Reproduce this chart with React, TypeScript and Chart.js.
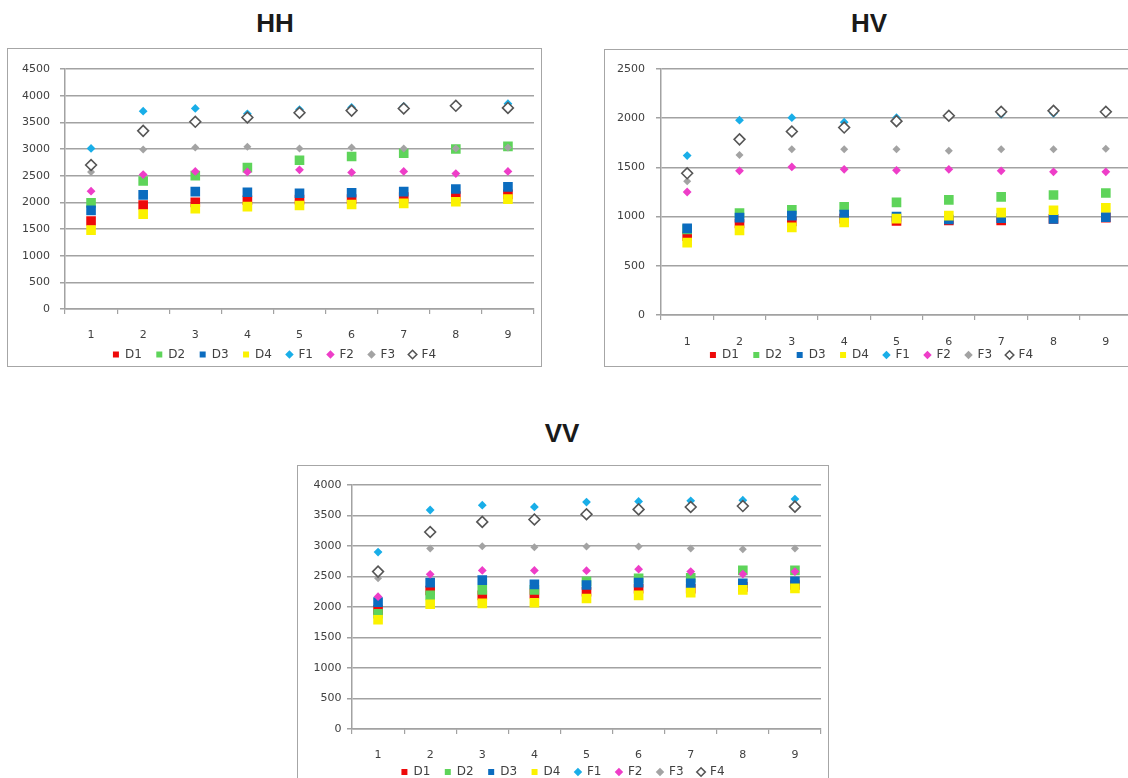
import React, { useEffect, useRef } from "react";
import { Chart, registerables } from "chart.js";

Chart.register(...registerables);

// ---------- data ----------
const CATEGORIES = ["1", "2", "3", "4", "5", "6", "7", "8", "9"];
const SERIES_NAMES = ["D1", "D2", "D3", "D4", "F1", "F2", "F3", "F4"];

// HH
const HH_D1 = [1650, 1950, 2000, 2040, 2050, 2060, 2100, 2120, 2150];
const HH_D2 = [1990, 2400, 2500, 2650, 2790, 2860, 2920, 3000, 3050];
const HH_D3 = [1850, 2140, 2200, 2190, 2170, 2180, 2200, 2250, 2290];
const HH_D4 = [1480, 1780, 1880, 1920, 1940, 1960, 1980, 2010, 2060];
const HH_F1 = [3010, 3710, 3760, 3660, 3740, 3780, 3800, 3820, 3850];
const HH_F2 = [2210, 2520, 2580, 2570, 2610, 2560, 2580, 2540, 2580];
const HH_F3 = [2570, 2990, 3030, 3040, 3010, 3030, 3010, 3010, 3030];
const HH_F4 = [2700, 3340, 3510, 3590, 3680, 3720, 3760, 3810, 3770];

// HV
const HV_D1 = [800, 930, 950, 980, 955, 960, 960, 975, 990];
const HV_D2 = [870, 1035, 1070, 1100, 1145, 1170, 1200, 1220, 1240];
const HV_D3 = [880, 990, 1010, 1020, 1000, 970, 985, 975, 995];
const HV_D4 = [735, 860, 890, 940, 980, 1010, 1040, 1065, 1090];
const HV_F1 = [1620, 1980, 2005, 1960, 2005, 2020, 2040, 2050, 2060];
const HV_F2 = [1250, 1465, 1505, 1480, 1470, 1480, 1465, 1455, 1455];
const HV_F3 = [1360, 1625, 1685, 1685, 1685, 1670, 1685, 1685, 1690];
const HV_F4 = [1440, 1785, 1865, 1905, 1970, 2025, 2065, 2075, 2065];

// VV
const VV_D1 = [1950, 2270, 2190, 2220, 2250, 2300, 2300, 2330, 2360];
const VV_D2 = [1890, 2190, 2280, 2280, 2420, 2470, 2480, 2600, 2600];
const VV_D3 = [2080, 2400, 2440, 2370, 2360, 2400, 2390, 2390, 2420];
const VV_D4 = [1790, 2045, 2060, 2070, 2140, 2190, 2235, 2280, 2305];
const VV_F1 = [2900, 3590, 3670, 3640, 3720, 3730, 3740, 3750, 3770];
const VV_F2 = [2170, 2535, 2600, 2600, 2595, 2620, 2580, 2540, 2580];
const VV_F3 = [2470, 2960, 2995, 2980, 2990, 2990, 2960, 2945, 2960];
const VV_F4 = [2580, 3230, 3395, 3435, 3520, 3600, 3640, 3655, 3645];

// ---------- styles ----------
const FILL = ["#ee0a0a", "#5ed45a", "#0b6cbf", "#fbf200", "#19aee8", "#ee3dc8", "#a3a3a3", "#ffffff"];
const STROKE = ["#ee0a0a", "#5ed45a", "#0b6cbf", "#fbf200", "#19aee8", "#ee3dc8", "#a3a3a3", "#555555"];
const STYLE = ["rect", "rect", "rect", "rect", "rectRot", "rectRot", "rectRot", "rectRot"];
const RADIUS = [6.8, 6.8, 6.8, 6.8, 4.4, 4.4, 4.0, 5.4];
const BORDER_W = [0, 0, 0, 0, 0, 0, 0, 1.6];

const GRID = "#a2a2a2";
const TEXT = "#404040";
const FONT = "'DejaVu Sans', Verdana, sans-serif";
const TITLE_FONT = "'Liberation Sans', Arial, Helvetica, sans-serif";

type Layout = {
  width: number;
  height: number;
  yMax: number;
  top: number;
  right: number;
  yWidth: number;
  yPad: number;
  xHeight: number;
  xPad: number;
  legendHeight: number;
};

function ScatterBox(props: { series: number[][]; layout: Layout }) {
  const ref = useRef<HTMLCanvasElement | null>(null);
  const { series, layout } = props;
  useEffect(() => {
    if (!ref.current) return;
    const datasets = series.map((vals, i) => ({
      label: SERIES_NAMES[i],
      data: vals,
      showLine: false,
      order: -i,
      pointStyle: STYLE[i],
      pointRadius: RADIUS[i],
      pointHoverRadius: RADIUS[i],
      backgroundColor: FILL[i],
      borderColor: STROKE[i],
      borderWidth: BORDER_W[i],
      pointBackgroundColor: FILL[i],
      pointBorderColor: STROKE[i],
      pointBorderWidth: BORDER_W[i],
    }));
    const chart = new Chart(ref.current, {
      type: "line",
      data: { labels: CATEGORIES, datasets },
      options: {
        animation: false,
        responsive: false,
        maintainAspectRatio: false,
        layout: { padding: { top: layout.top, right: layout.right, left: 0, bottom: 0 } },
        plugins: {
          tooltip: { enabled: false },
          legend: {
            position: "bottom",
            maxHeight: layout.legendHeight,
            labels: {
              usePointStyle: true,
              boxWidth: 6,
              boxHeight: 6,
              padding: 14.5,
              color: TEXT,
              font: { family: FONT, size: 12 },
              sort: (a: any, b: any) => a.datasetIndex - b.datasetIndex,
            },
          },
        },
        scales: {
          x: {
            type: "category",
            offset: true,
            grid: {
              offset: true,
              drawOnChartArea: false,
              drawTicks: true,
              tickLength: 5,
              color: GRID,
              lineWidth: 1.2,
            },
            border: { display: true, color: GRID, width: 1.5 },
            ticks: {
              mirror: true,
              padding: layout.xPad,
              color: TEXT,
              font: { family: FONT, size: 11 },
              maxRotation: 0,
              autoSkip: false,
            },
            afterFit: (s: any) => {
              s.height = layout.xHeight;
            },
          },
          y: {
            min: 0,
            max: layout.yMax,
            grid: { color: GRID, lineWidth: 1.5, tickLength: 5, drawTicks: true },
            border: { display: true, color: GRID, width: 1.5 },
            ticks: {
              stepSize: 500,
              padding: layout.yPad,
              color: TEXT,
              font: { family: FONT, size: 11 },
              callback: (v: any) => String(v),
            },
            afterFit: (s: any) => {
              s.width = layout.yWidth;
            },
          },
        },
      },
    } as any);
    return () => chart.destroy();
  }, [series, layout]);
  return <canvas ref={ref} width={layout.width} height={layout.height} style={{ display: "block", width: layout.width, height: layout.height }} />;
}

const HH_SERIES = [HH_D1, HH_D2, HH_D3, HH_D4, HH_F1, HH_F2, HH_F3, HH_F4];
const HV_SERIES = [HV_D1, HV_D2, HV_D3, HV_D4, HV_F1, HV_F2, HV_F3, HV_F4];
const VV_SERIES = [VV_D1, VV_D2, VV_D3, VV_D4, VV_F1, VV_F2, VV_F3, VV_F4];

const HH_LAYOUT: Layout = { width: 533, height: 317, yMax: 4500, top: 20, right: 0, yWidth: 57, yPad: 10, xHeight: 25, xPad: -32.6, legendHeight: 32 };
const HV_LAYOUT: Layout = { width: 534, height: 316, yMax: 2500, top: 19, right: 1, yWidth: 56, yPad: 11, xHeight: 19.5, xPad: -33.6, legendHeight: 31.5 };
const VV_LAYOUT: Layout = { width: 530, height: 317, yMax: 4000, top: 19, right: 0, yWidth: 54, yPad: 5.5, xHeight: 22.5, xPad: -32.6, legendHeight: 31.5 };

function Title(props: { text: string; cx: number; cy: number }) {
  return (
    <div
      style={{
        position: "absolute",
        left: props.cx - 60,
        top: props.cy - 15,
        width: 120,
        height: 30,
        lineHeight: "30px",
        textAlign: "center",
        fontFamily: TITLE_FONT,
        fontWeight: "bold",
        fontSize: 26,
        color: "#1a1a1a",
      }}
    >
      {props.text}
    </div>
  );
}

function Box(props: { left: number; top: number; children: React.ReactNode }) {
  return (
    <div
      style={{
        position: "absolute",
        left: props.left,
        top: props.top,
        border: "1px solid #a6a6a6",
        background: "#ffffff",
      }}
    >
      {props.children}
    </div>
  );
}

export default function App() {
  return (
    <div
      style={{
        position: "absolute",
        left: 0,
        top: 0,
        width: 1128,
        height: 778,
        overflow: "hidden",
        background: "#ffffff",
      }}
    >
      <Title text="HH" cx={275} cy={23} />
      <Title text="HV" cx={869} cy={23} />
      <Title text="VV" cx={562} cy={433} />
      <Box left={7} top={48}>
        <ScatterBox series={HH_SERIES} layout={HH_LAYOUT} />
      </Box>
      <Box left={604} top={49}>
        <ScatterBox series={HV_SERIES} layout={HV_LAYOUT} />
      </Box>
      <Box left={297} top={465}>
        <ScatterBox series={VV_SERIES} layout={VV_LAYOUT} />
      </Box>
    </div>
  );
}
